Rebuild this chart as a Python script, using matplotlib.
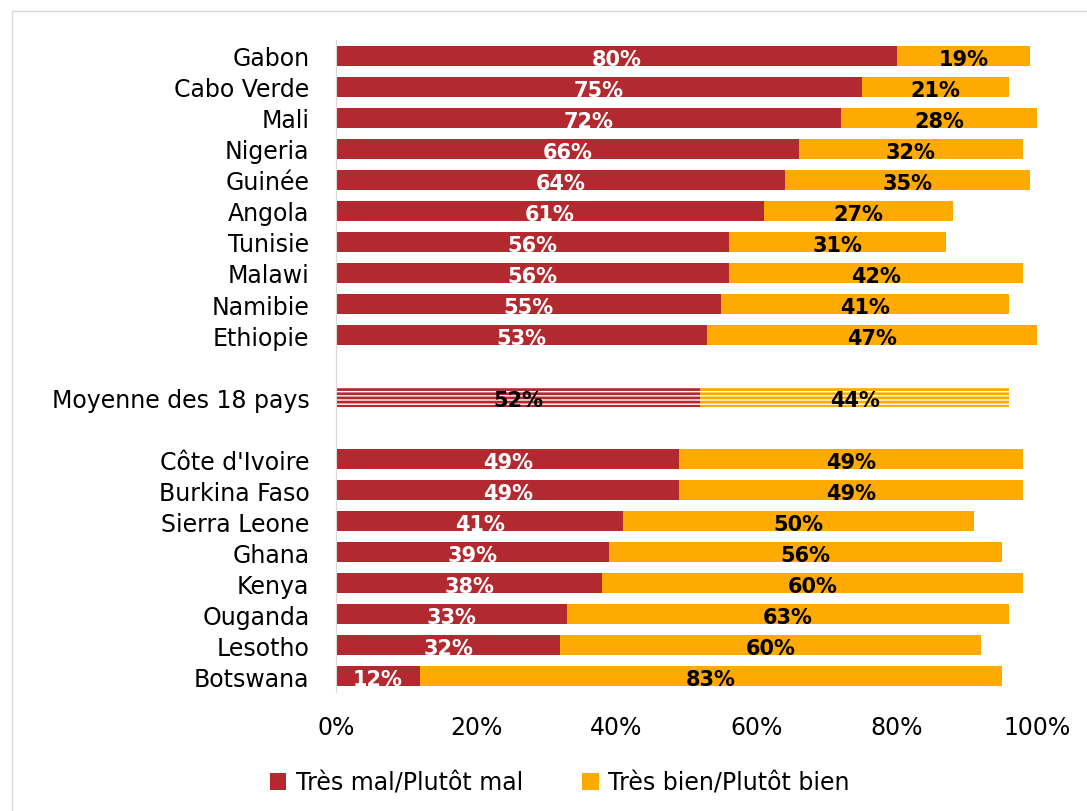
import numpy as np
import matplotlib.pyplot as plt
from matplotlib.patches import Rectangle

# countries from top to bottom, None = blank row
countries = ["Gabon", "Cabo Verde", "Mali", "Nigeria", "Guinée", "Angola", "Tunisie",
             "Malawi", "Namibie", "Ethiopie", None, "Moyenne des 18 pays", None,
             "Côte d'Ivoire", "Burkina Faso", "Sierra Leone", "Ghana", "Kenya",
             "Ouganda", "Lesotho", "Botswana"]
mal = [80, 75, 72, 66, 64, 61, 56, 56, 55, 53, None, 52, None,
       49, 49, 41, 39, 38, 33, 32, 12]
bien = [19, 21, 28, 32, 35, 27, 31, 42, 41, 47, None, 44, None,
        49, 49, 50, 56, 60, 63, 60, 83]
series_names = ["Très mal/Plutôt mal", "Très bien/Plutôt bien"]
red = "#b22a2f"
orange = "#ffaa00"

plt.rcParams['font.family'] = 'DejaVu Sans'
plt.rcParams['hatch.linewidth'] = 2.0

fig = plt.figure(figsize=(10.87, 8.12), dpi=100)
fig.patches.append(Rectangle((0.011, -0.01), 1.0, 0.995, transform=fig.transFigure,
                             fill=False, edgecolor="#d9d9d9", linewidth=1))
ax = fig.add_axes([0.309, 0.147, 0.645, 0.802])

n = len(countries)
for i in range(n):
    if countries[i] is None:
        continue
    m, b = mal[i], bien[i]
    if countries[i].startswith("Moyenne"):
        ax.barh(i, m, height=0.62, color="white", edgecolor=red, hatch="----", linewidth=0)
        ax.barh(i, b, left=m, height=0.62, color="white", edgecolor=orange, hatch="----", linewidth=0)
        ax.text(m / 2, i + 0.1, f"{m}%", ha="center", va="center", color="black",
                fontsize=15, fontweight="bold")
    else:
        ax.barh(i, m, height=0.65, color=red, label=series_names[0] if i == 0 else None)
        ax.barh(i, b, left=m, height=0.65, color=orange, label=series_names[1] if i == 0 else None)
        ax.text(m / 2, i + 0.1, f"{m}%", ha="center", va="center", color="white",
                fontsize=15, fontweight="bold")
    ax.text(m + b / 2, i + 0.1, f"{b}%", ha="center", va="center", color="black",
            fontsize=15, fontweight="bold")

ax.set_ylim(n - 0.5, -0.5)
ax.set_xlim(0, 100)
ax.set_yticks([i for i in range(n) if countries[i] is not None])
ax.set_yticklabels([c for c in countries if c is not None], fontsize=17)
ax.set_xticks(np.arange(0, 101, 20))
ax.set_xticklabels([f"{v}%" for v in range(0, 101, 20)], fontsize=17)
ax.tick_params(axis="both", length=0)
ax.tick_params(axis="y", pad=19)
ax.tick_params(axis="x", pad=17)
for s in ["top", "right", "bottom"]:
    ax.spines[s].set_visible(False)
ax.spines["left"].set_color("#d9d9d9")

fig.legend(loc="center", bbox_to_anchor=(0.515, 0.035), ncol=2, frameon=False,
           fontsize=17, handlelength=0.7, handleheight=0.7, columnspacing=2.5,
           handletextpad=0.4)

fig.savefig("out.png", dpi=100)
